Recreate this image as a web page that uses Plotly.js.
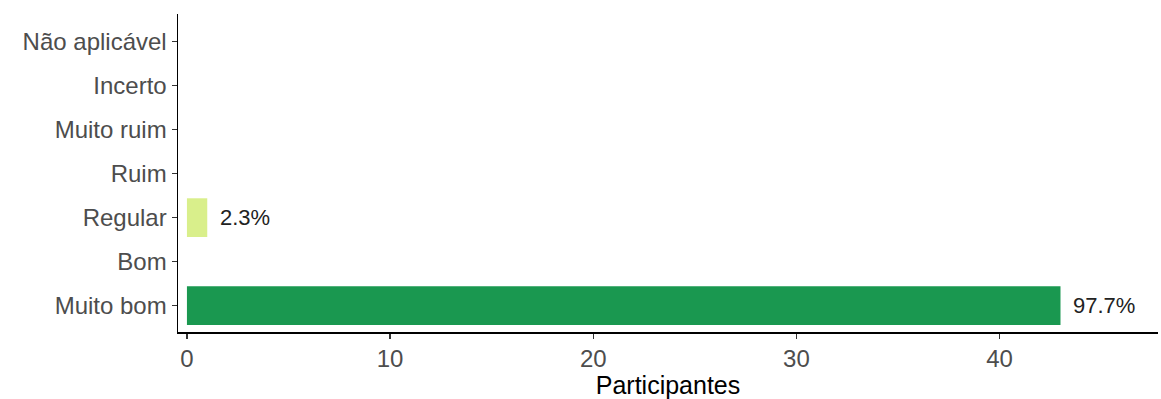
<!DOCTYPE html>
<html>
<head>
<meta charset="utf-8">
<script src="https://cdn.plot.ly/plotly-3.0.1.min.js"></script>
<style>html,body{margin:0;padding:0;background:#fff;}#chart{width:1161px;height:399px;}</style>
</head>
<body>
<div id="chart"></div>
<script>
const categories = ["Muito bom", "Bom", "Regular", "Ruim", "Muito ruim", "Incerto", "Não aplicável"];
const counts = [43, 0, 1, 0, 0, 0, 0];
const labels = ["97.7%", "", "2.3%", "", "", "", ""];
const colors = ["#1a9850", "#91cf60", "#d9ef8b", "#fee08b", "#fc8d59", "#d73027", "#999999"];

const trace = {
  type: "bar",
  orientation: "h",
  x: counts,
  y: categories,
  marker: {color: colors, line: {width: 0}},
  width: 0.88,
  hoverinfo: "none"
};

const annotations = categories.map((c, i) => ({
  x: counts[i], y: c, xref: "x", yref: "y",
  text: labels[i], showarrow: false,
  xanchor: "left", yanchor: "middle", xshift: 11,
  font: {family: "Liberation Sans, Arial, sans-serif", size: 22, color: "#222"}
})).filter(a => a.text !== "");

const layout = {
  width: 1161, height: 399,
  margin: {l: 178, r: 3, t: 14, b: 67},
  paper_bgcolor: "#fff", plot_bgcolor: "#fff",
  showlegend: false,
  font: {family: "Liberation Sans, Arial, sans-serif"},
  annotations: annotations,
  xaxis: {
    range: [-0.44, 47.8],
    tickvals: [0, 10, 20, 30, 40],
    ticks: "outside", ticklen: 5, tickwidth: 1.2, tickcolor: "#333",
    showline: true, linecolor: "#000", linewidth: 1.5,
    showgrid: false, zeroline: false,
    tickfont: {size: 24, color: "#4d4d4d"},
    title: {text: "Participantes", font: {size: 25, color: "#000"}, standoff: 3}
  },
  yaxis: {
    type: "category",
    categoryorder: "array", categoryarray: categories,
    range: [-0.6, 6.63],
    ticks: "outside", ticklen: 5, tickwidth: 1.2, tickcolor: "#333",
    showline: true, linecolor: "#000", linewidth: 1.5,
    showgrid: false, zeroline: false,
    tickfont: {size: 24, color: "#4d4d4d"}
  }
};

Plotly.newPlot("chart", [trace], layout, {displayModeBar: false, staticPlot: true});
</script>
</body>
</html>
